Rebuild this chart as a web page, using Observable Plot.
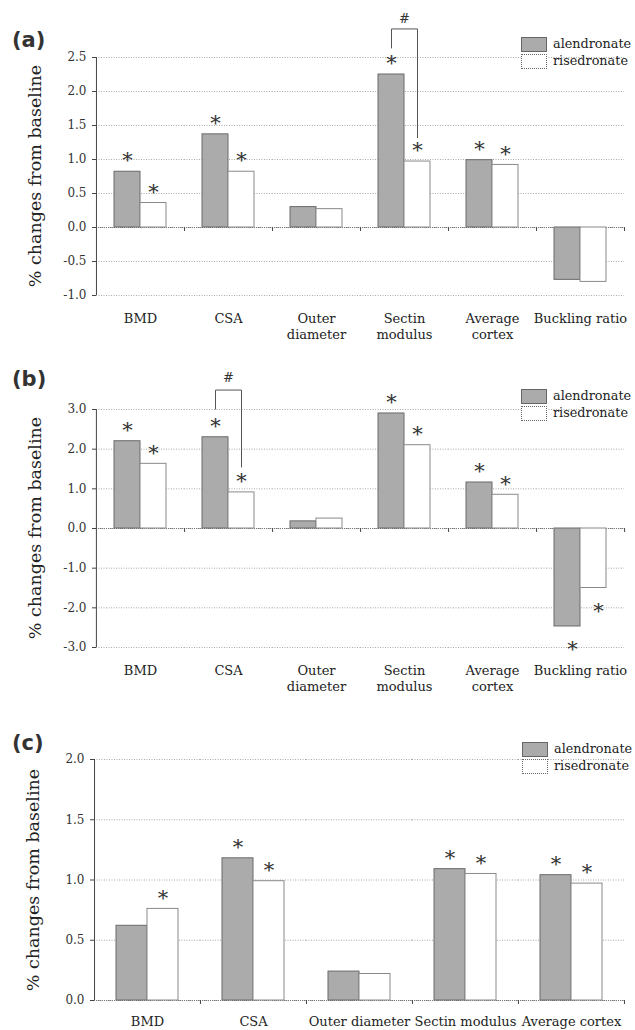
<!DOCTYPE html>
<html><head><meta charset="utf-8">
<script src="https://cdn.jsdelivr.net/npm/d3@7"></script>
<script src="https://cdn.jsdelivr.net/npm/@observablehq/plot@0.6"></script>
<style>
body{margin:0;background:#fff;}
#root{position:relative;width:635px;height:1030px;font-family:"DejaVu Serif",serif;color:#222;overflow:hidden;}
.panel{position:absolute;left:0;width:635px;}
.tag{position:absolute;font-family:"DejaVu Sans",sans-serif;font-weight:bold;font-size:21px;line-height:21px;color:#333;}
.ylab{position:absolute;font-size:17.5px;line-height:18px;white-space:nowrap;color:#222;transform:translate(-50%,-50%) rotate(-90deg);}
.leg{position:absolute;font-size:12.8px;line-height:15px;color:#222;white-space:nowrap;}
.leg .row{position:relative;height:17px;}
.leg .sw{position:absolute;left:0;top:0;width:26px;height:15px;box-sizing:border-box;}
.leg .lab{position:absolute;left:32px;top:-1px;}
</style></head><body><div id="root"></div>
<script>
const series = ["alendronate", "risedronate"];

// Panels (a) and (b): six measures
const categoriesAB = ["BMD", "CSA", "Outer diameter", "Sectin modulus", "Average cortex", "Buckling ratio"];
const tickLabelsAB = ["BMD", "CSA", "Outer\ndiameter", "Sectin\nmodulus", "Average\ncortex", "Buckling ratio"];
// Panel (c): five measures
const categoriesC = ["BMD", "CSA", "Outer diameter", "Sectin modulus", "Average cortex"];
const tickLabelsC = ["BMD", "CSA", "Outer diameter", "Sectin modulus", "Average cortex"];

// (a)
const alendA = [0.82, 1.37, 0.30, 2.25, 0.99, -0.77];
const risedA = [0.36, 0.82, 0.27, 0.97, 0.92, -0.80];
const starAlendA = [1, 1, 0, 1, 1, 0];
const starRisedA = [1, 1, 0, 1, 1, 0];
const yTicksA = [-1.0, -0.5, 0.0, 0.5, 1.0, 1.5, 2.0, 2.5];
const bracketA = {cat: "Sectin modulus", left: 2.64, top: 2.92, right: 1.32, hash: 3.07};

// (b)
const alendB = [2.20, 2.30, 0.18, 2.90, 1.16, -2.47];
const risedB = [1.63, 0.91, 0.25, 2.10, 0.85, -1.50];
const starAlendB = [1, 1, 0, 1, 1, 1];
const starRisedB = [1, 1, 0, 1, 1, 1];
const yTicksB = [-3.0, -2.0, -1.0, 0.0, 1.0, 2.0, 3.0];
const bracketB = {cat: "CSA", left: 3.01, top: 3.49, right: 1.55, hash: 3.80};

// (c)
const alendC = [0.62, 1.18, 0.24, 1.09, 1.04];
const risedC = [0.76, 0.99, 0.22, 1.05, 0.97];
const starAlendC = [0, 1, 0, 1, 1];
const starRisedC = [1, 1, 0, 1, 1];
const yTicksC = [0.0, 0.5, 1.0, 1.5, 2.0];

const yLabel = "% changes from baseline";
const P = 0.69; // outer padding of the bar pair inside each category band

const root = document.getElementById("root");

function makePanel(cfg) {
  const {top, height, mt, mb, ml, mr, cats, labels, alend, rised, sA, sR, yTicks, bracket, tag, tagTop, legTop, legLeft, labPad} = cfg;
  const W = 635;
  const rows = [];
  cats.forEach((c, i) => {
    rows.push({cat: c, s: series[0], v: alend[i], star: sA[i]});
    rows.push({cat: c, s: series[1], v: rised[i], star: sR[i]});
  });
  const fw = (W - ml - mr) / cats.length;
  const step = fw / (2 + 2 * P);
  const edge = (P + 0.5) * step;
  const labelOf = new Map(cats.map((c, i) => [c, labels[i]]));
  const yMin = d3.min(yTicks), yMax = d3.max(yTicks);

  const marks = [
    Plot.gridY(yTicks, {stroke: "#a8a8a8", strokeOpacity: 1, strokeWidth: 1, strokeDasharray: "1,1.5"}),
    Plot.ruleY([0], {stroke: "#777", strokeWidth: 1, strokeDasharray: "1,1"}),
    Plot.barY(rows.filter(d => d.s === series[0]), {fx: "cat", x: "s", y: "v", fill: "#ababab", stroke: "#6a6a6a", strokeWidth: 1}),
    Plot.barY(rows.filter(d => d.s === series[1]), {fx: "cat", x: "s", y: "v", fill: "#fff", stroke: "#8a8a8a", strokeWidth: 1}),
    // y axis line (first category only)
    Plot.ruleX([{cat: cats[0]}], {fx: "cat", x: () => series[0], y1: () => yMin, y2: () => yMax, dx: -edge, stroke: "#444"}),
    // small ticks at category boundaries along zero
    Plot.ruleX(cats.map(c => ({cat: c})), {fx: "cat", x: () => series[1], y1: () => 0, y2: () => 0, insetBottom: -4, dx: edge, stroke: "#444"}),
    Plot.axisY(yTicks, {tickSize: 4, tickPadding: 6, tickFormat: d => d.toFixed(1), fontSize: 12, stroke: "#444", fill: "#333", label: null}),
    Plot.axisFx({anchor: "bottom", tickSize: 0, tickPadding: labPad, tickFormat: d => labelOf.get(d), fontSize: 13, lineHeight: 1.3, fill: "#222", label: null}),
    Plot.text(rows.filter(d => d.star && d.v >= 0), {fx: "cat", x: "s", y: "v", text: () => "*", fontSize: 21, fill: "#333", dy: -11}),
    Plot.text(rows.filter(d => d.star && d.v < 0), {fx: "cat", x: "s", y: "v", text: () => "*", fontSize: 21, fill: "#333", dy: 23, dx: 5})
  ];
  if (bracket) {
    const pts = [
      {cat: bracket.cat, s: series[0], v: bracket.left},
      {cat: bracket.cat, s: series[0], v: bracket.top},
      {cat: bracket.cat, s: series[1], v: bracket.top},
      {cat: bracket.cat, s: series[1], v: bracket.right}
    ];
    marks.push(Plot.line(pts, {fx: "cat", x: "s", y: "v", stroke: "#555", strokeWidth: 1}));
    marks.push(Plot.text([bracket], {fx: "cat", y: "hash", text: () => "#", fontSize: 13, fill: "#333"}));
  }

  const chart = Plot.plot({
    width: W, height,
    marginTop: mt, marginBottom: mb, marginLeft: ml, marginRight: mr,
    style: {fontFamily: "DejaVu Serif", fontSize: "13px", color: "#222", background: "transparent", overflow: "visible"},
    fx: {domain: cats, padding: 0, axis: null, label: null},
    x: {domain: series, paddingInner: 0, paddingOuter: P, axis: null},
    y: {domain: [yMin, yMax], axis: null},
    marks
  });
  const div = document.createElement("div");
  div.className = "panel";
  div.style.top = top + "px";
  div.appendChild(chart);
  root.appendChild(div);

  const t = document.createElement("div");
  t.className = "tag";
  t.textContent = tag;
  t.style.left = "12px";
  t.style.top = tagTop + "px";
  root.appendChild(t);

  const yl = document.createElement("div");
  yl.className = "ylab";
  yl.textContent = yLabel;
  yl.style.left = (ml - 60) + "px";
  yl.style.top = (top + (mt + height - mb) / 2) + "px";
  root.appendChild(yl);

  const leg = document.createElement("div");
  leg.className = "leg";
  leg.style.left = legLeft + "px";
  leg.style.top = legTop + "px";
  series.forEach((s, i) => {
    const r = document.createElement("div");
    r.className = "row";
    const sw = document.createElement("div");
    sw.className = "sw";
    sw.style.background = i === 0 ? "#ababab" : "#fff";
    sw.style.border = i === 0 ? "1px solid #666" : "1px dotted #666";
    const l = document.createElement("div");
    l.className = "lab";
    l.textContent = s;
    r.appendChild(sw); r.appendChild(l);
    leg.appendChild(r);
  });
  root.appendChild(leg);
}

makePanel({top: 0, height: 345, mt: 57, mb: 50, ml: 95, mr: 11, cats: categoriesAB, labels: tickLabelsAB,
  alend: alendA, rised: risedA, sA: starAlendA, sR: starRisedA, yTicks: yTicksA, bracket: bracketA,
  tag: "(a)", tagTop: 30, legTop: 37, legLeft: 521, labPad: 15});
makePanel({top: 350, height: 347, mt: 59, mb: 50, ml: 95, mr: 10, cats: categoriesAB, labels: tickLabelsAB,
  alend: alendB, rised: risedB, sA: starAlendB, sR: starRisedB, yTicks: yTicksB, bracket: bracketB,
  tag: "(b)", tagTop: 369, legTop: 389, legLeft: 521, labPad: 15});
makePanel({top: 697, height: 333, mt: 62, mb: 30, ml: 93, mr: 10, cats: categoriesC, labels: tickLabelsC,
  alend: alendC, rised: risedC, sA: starAlendC, sR: starRisedC, yTicks: yTicksC, bracket: null,
  tag: "(c)", tagTop: 733, legTop: 742, legLeft: 522, labPad: 13});
</script>
</body></html>
